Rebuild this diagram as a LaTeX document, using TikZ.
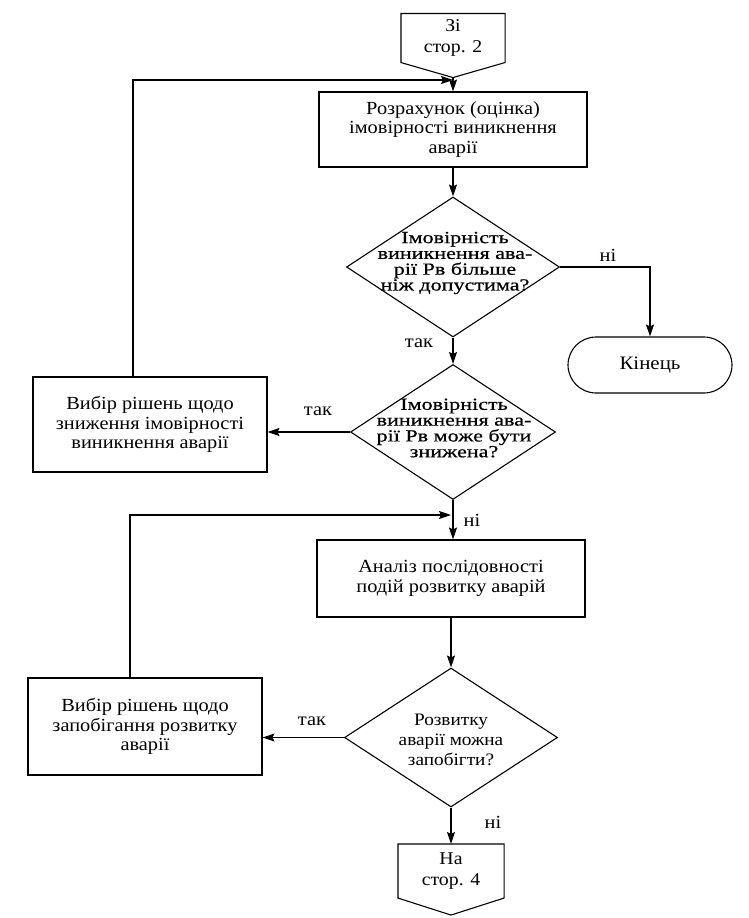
\documentclass[tikz,border=0pt]{standalone}
\usepackage{fontspec}
\setmainfont{Liberation Serif}[FakeStretch=1.1]
\newfontfamily\diafont{Liberation Serif}[FakeStretch=1.3,FakeBold=0.6]
\usetikzlibrary{shapes.geometric,arrows.meta,calc}
\begin{document}
\begin{tikzpicture}[x=1pt,y=-1pt,line width=1.1pt,
  box/.style={draw,rectangle,align=center,inner sep=0pt,font=\fontsize{18.5}{19.5}\selectfont},
  dia/.style={draw,diamond,inner sep=0pt},
  dtext/.style={align=center,inner sep=0pt,font=\diafont\fontsize{17}{15.8}\selectfont},
  dtextb/.style={align=center,inner sep=0pt,font=\fontsize{17.5}{20}\selectfont},
  term/.style={draw,rectangle,rounded corners=28pt,minimum width=164pt,minimum height=56pt,inner sep=0pt,font=\fontsize{19}{22}\selectfont},
  conn/.style={rectangle,align=center,inner sep=0pt,font=\fontsize{18}{21}\selectfont},
  lbl/.style={inner sep=0pt,font=\fontsize{18.5}{20}\selectfont},
  arr/.style={-{Stealth[length=12pt,width=8pt,inset=2pt]}}
]
\useasboundingbox (0,0) rectangle (748,918);

% off-page connector top
\node[conn,minimum width=103pt,minimum height=48pt] (c1) at (453,38) {Зі\\стор. 2};
\coordinate (c1p) at ($(c1.south)+(0,15)$);
\draw (c1.north west) -- (c1.north east) -- (c1.south east) -- (c1p) -- (c1.south west) -- cycle;

\node[box,minimum width=268pt,minimum height=75pt] (b1) at (453,129.5) {Розрахунок (оцінка)\\імовірності виникнення\\аварії};

\node[dia,minimum width=213pt,minimum height=140pt] (d1) at (453,267) {};
\node[dtext] (d1t) at (455,263) {Імовірність\\виникнення ава-\\рії Рв більше\\ніж допустима?};

\node[term] (end) at (650,365) {Кінець};

\node[dia,minimum width=205pt,minimum height=135pt] (d2) at (453,432) {};
\node[dtext] (d2t) at (454,428) {Імовірність\\виникнення ава-\\рії Рв може бути\\знижена?};

\node[box,minimum width=234pt,minimum height=95pt] (b2) at (150,424.5) {Вибір рішень щодо\\зниження імовірності\\виникнення аварії};

\node[box,minimum width=268pt,minimum height=77pt] (b3) at (451,578.5) {Аналіз послідовності\\подій розвитку аварій};

\node[dia,minimum width=213pt,minimum height=139pt] (d3) at (451,737.5) {};
\node[dtextb] (d3t) at (451,740) {Розвитку\\аварії можна\\запобігти?};

\node[box,minimum width=234pt,minimum height=97pt] (b4) at (145,726.5) {Вибір рішень щодо\\запобігання розвитку\\аварії};

% off-page connector bottom
\node[conn,minimum width=105pt,minimum height=53pt] (c2) at (451,871) {На\\стор. 4};
\coordinate (c2p) at ($(c2.south)+(0,17)$);
\draw (c2.north west) -- (c2.north east) -- (c2.south east) -- (c2p) -- (c2.south west) -- cycle;

% junctions
\coordinate (j1) at (453,80);
\coordinate (j2) at (451,515);

% connectors
\draw[arr] (c1p) -- (b1.north);
\draw[arr] ([xshift=-17pt]b2.north) |- (j1);
\draw[arr] (b1.south) -- (d1.north);
\draw[arr] (d1.east) -| (end.north);
\draw[arr] (d1.south) -- (d2.north);
\draw[arr] (d2.west) -- (d2.west -| b2.east);
\draw[arr] (d2.south) -- (d2.south |- b3.north);
\draw[arr] ([xshift=-15pt]b4.north) |- (j2);
\draw[arr] (b3.south) -- (d3.north);
\draw[arr] (d3.west) -- (d3.west -| b4.east);
\draw[arr] (d3.south) -- (c2.north);

% labels
\node[lbl] (l1) at (608,255) {ні};
\node[lbl] (l2) at (419,343) {так};
\node[lbl] (l3) at (318,411) {так};
\node[lbl] (l4) at (472,520) {ні};
\node[lbl] (l5) at (312,721) {так};
\node[lbl] (l6) at (493,822) {ні};
\end{tikzpicture}
\end{document}
